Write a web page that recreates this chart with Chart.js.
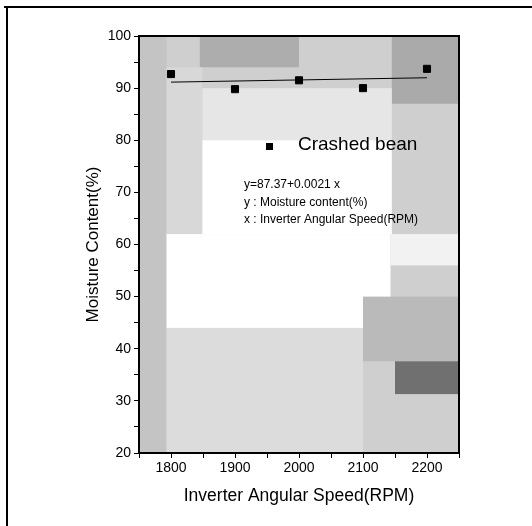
<!DOCTYPE html>
<html lang="en">
    <head>
        <meta charset="UTF-8">
        <title>Moisture content vs inverter angular speed</title>
        <script src="https://cdnjs.cloudflare.com/ajax/libs/Chart.js/4.4.1/chart.umd.min.js"></script>
        <style>
            html, body {
                margin: 0;
                padding: 0;
                background: #fff;
            }
            #wrap {
                position: relative;
                width: 532px;
                height: 526px;
            }
        </style>
    </head>
    <body>
        <div id="wrap">
            <canvas id="moistureChart" width="532" height="526"></canvas>
        </div>
        <script>
            // values
            const speeds = [1800, 1900, 2000, 2100, 2200];
            const moisture = [92.7, 89.8, 91.5, 90.0, 93.7];
            const fitSpeeds = [1800, 2200];
            const fitMoisture = [91.15, 91.99];
            const seriesName = "Crashed bean";
            const noteLines = [
                "y=87.37+0.0021 x",
                "y : Moisture content(%)",
                "x : Inverter Angular Speed(RPM)"
            ];

            // halftone patches of the scan, in axis units (decoration only)
            const shading = [
                [1750, 1793, 20, 100, "#c4c4c4"],
                [1845, 2000, 94, 100, "#adadad"],
                [2145, 2250, 87, 100, "#aaaaaa"],
                [1793, 2100, 20, 44, "#dcdcdc"],
                [1793, 1849, 62, 94, "#d8d8d8"],
                [1849, 2145, 80, 90, "#e6e6e6"],
                [1793, 2143, 44, 62, "#ffffff"],
                [1849, 2145, 62, 80, "#ffffff"],
                [2143, 2250, 56, 62, "#f2f2f2"],
                [2100, 2250, 37.6, 50, "#bababa"],
                [2150, 2250, 31.3, 37.6, "#707070"]
            ];

            const tickFont = {family: "'Liberation Sans Narrow', 'Liberation Sans', Arial", size: 14};

            const scanBackdrop = {
                id: "scanBackdrop",
                beforeDraw(chart) {
                    const ctx = chart.ctx;
                    const a = chart.chartArea;
                    const xs = chart.scales.x;
                    const ys = chart.scales.y;
                    ctx.save();
                    ctx.fillStyle = "#cfcfcf";
                    ctx.fillRect(a.left, a.top, a.right - a.left, a.bottom - a.top);
                    shading.forEach(function (s) {
                        const x0 = xs.getPixelForValue(s[0]);
                        const x1 = xs.getPixelForValue(s[1]);
                        const y0 = ys.getPixelForValue(s[3]);
                        const y1 = ys.getPixelForValue(s[2]);
                        ctx.fillStyle = s[4];
                        ctx.fillRect(x0, y0, x1 - x0, y1 - y0);
                    });
                    // outer figure frame (left and top only, as in the scan)
                    ctx.fillStyle = "#000";
                    ctx.fillRect(4, 6, 528, 2);
                    ctx.fillRect(6, 6, 2, 520);
                    ctx.restore();
                },
                afterDatasetsDraw(chart) {
                    const ctx = chart.ctx;
                    const a = chart.chartArea;
                    ctx.save();
                    ctx.strokeStyle = "#000";
                    ctx.lineWidth = 2;
                    ctx.strokeRect(a.left, a.top, a.right - a.left, a.bottom - a.top);
                    ctx.fillStyle = "#000";
                    // legend
                    ctx.fillRect(266, 143, 7, 7);
                    ctx.font = "19px 'Liberation Sans', Arial";
                    ctx.textBaseline = "alphabetic";
                    ctx.fillText(seriesName, 298, 150);
                    // regression note
                    ctx.font = "12px 'Liberation Sans', Arial";
                    noteLines.forEach(function (t, i) {
                        ctx.fillText(t, 244, 188 + i * 17.5);
                    });
                    ctx.restore();
                }
            };

            const ctx = document.getElementById("moistureChart").getContext("2d");
            const moistureChart = new Chart(ctx, {
                type: "scatter",
                data: {
                    datasets: [
                        {
                            label: "Linear fit",
                            type: "line",
                            data: fitSpeeds.map(function (x, i) { return {x: x, y: fitMoisture[i]}; }),
                            borderColor: "#000",
                            borderWidth: 1,
                            pointRadius: 0,
                            fill: false
                        },
                        {
                            label: seriesName,
                            data: speeds.map(function (x, i) { return {x: x, y: moisture[i]}; }),
                            pointStyle: "rect",
                            pointRadius: 5,
                            borderWidth: 1,
                            backgroundColor: "#000",
                            borderColor: "#000"
                        }
                    ]
                },
                options: {
                    responsive: false,
                    animation: false,
                    layout: {
                        padding: {left: 0, top: 36, right: 73, bottom: 0}
                    },
                    plugins: {
                        legend: {display: false},
                        tooltip: {enabled: false}
                    },
                    scales: {
                        x: {
                            type: "linear",
                            min: 1750,
                            max: 2250,
                            afterFit: function (scale) { scale.height = 73; },
                            border: {display: false},
                            grid: {
                                drawOnChartArea: false,
                                drawTicks: true,
                                tickLength: 5,
                                color: "#000"
                            },
                            ticks: {
                                stepSize: 50,
                                autoSkip: false,
                                color: "#000",
                                font: tickFont,
                                padding: 2,
                                maxRotation: 0,
                                callback: function (v) { return v % 100 === 0 ? String(v) : ""; }
                            },
                            title: {
                                display: true,
                                text: "Inverter Angular Speed(RPM)",
                                color: "#000",
                                font: {family: "'Liberation Sans', Arial", size: 17.5},
                                padding: {top: 0, bottom: 19.5}
                            }
                        },
                        y: {
                            min: 20,
                            max: 100,
                            afterFit: function (scale) { scale.width = 139; },
                            border: {display: false},
                            grid: {
                                drawOnChartArea: false,
                                drawTicks: true,
                                tickLength: 5,
                                color: "#000"
                            },
                            ticks: {
                                stepSize: 5,
                                autoSkip: false,
                                color: "#000",
                                font: tickFont,
                                padding: 3,
                                callback: function (v) { return v % 10 === 0 ? String(v) : ""; }
                            },
                            title: {
                                display: true,
                                text: "Moisture Content(%)",
                                color: "#000",
                                font: {family: "'Liberation Sans', Arial", size: 17},
                                padding: {top: 83, bottom: 0}
                            }
                        }
                    }
                },
                plugins: [scanBackdrop]
            });
        </script>
    </body>
</html>
